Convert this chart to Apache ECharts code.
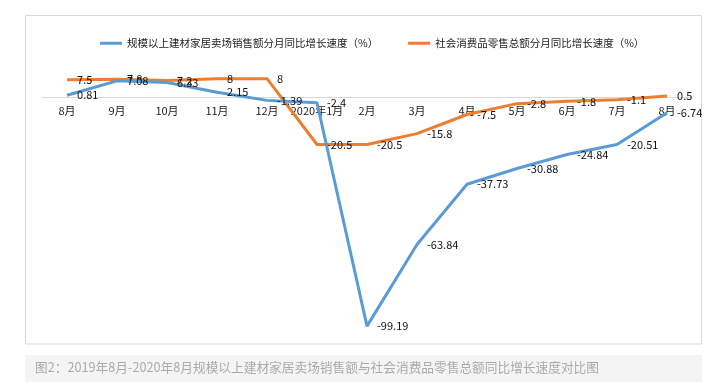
<!DOCTYPE html>
<html><head><meta charset="utf-8">
<script src="https://cdn.jsdelivr.net/npm/echarts@6/dist/echarts.min.js"></script>
<style>html,body{margin:0;padding:0;background:#fff}#c{width:724px;height:389px}</style>
</head><body><div id="c"></div>
<script>
const categories = ['8月','9月','10月','11月','12月','2020年1月','2月','3月','4月','5月','6月','7月','8月'];
const homeMarket = [0.81, 7.08, 6.33, 2.15, -1.39, -2.4, -99.19, -63.84, -37.73, -30.88, -24.84, -20.51, -6.74];
const retailSales = [7.5, 7.8, 7.2, 8, 8, -20.5, -20.5, -15.8, -7.5, -2.8, -1.8, -1.1, 0.5];
const seriesNames = ['规模以上建材家居卖场销售额分月同比增长速度（%）','社会消费品零售总额分月同比增长速度（%）'];
const caption = '图2：2019年8月-2020年8月规模以上建材家居卖场销售额与社会消费品零售总额同比增长速度对比图';
const yMin = -100, yMax = 20;

const font = '"Microsoft YaHei","Noto Sans CJK SC",sans-serif';
const chart = echarts.init(document.getElementById('c'));
const gridTop = 51, gridBottom = 61, H = 389;
const gridH = H - gridTop - gridBottom;
const zeroOffset = -gridH * (0 - yMin) / (yMax - yMin);
const lbl = {show:true, position:'right', distance:10, fontSize:11, color:'#111', fontFamily:font};
chart.setOption({
  animation:false,
  textStyle:{fontFamily:font},
  graphic:[
    {type:'rect', shape:{x:25.5,y:15.5,width:676,height:328.5}, style:{fill:null, stroke:'#d9d9d9', lineWidth:1}, z:-1},
    {type:'rect', shape:{x:25,y:355,width:677,height:27}, style:{fill:'#f4f4f4'}, z:-1},
    {type:'text', left:35, top:361, style:{text:caption, fill:'#aaaaaa', fontSize:12.7, fontFamily:font}}
  ],
  legend:{
    top:33, left:95, itemGap:30, itemWidth:22, itemHeight:3, icon:'rect',
    textStyle:{fontSize:10.5, color:'#222', fontFamily:font},
    data:seriesNames
  },
  grid:{left:42, right:32, top:gridTop, bottom:gridBottom},
  xAxis:{
    type:'category', data:categories, boundaryGap:true, offset:zeroOffset,
    axisLine:{onZero:false, lineStyle:{color:'#d9d9d9'}},
    axisTick:{show:false},
    axisLabel:{color:'#222', fontSize:11, margin:8, interval:0, fontFamily:font}
  },
  yAxis:{type:'value', min:yMin, max:yMax, show:false, splitLine:{show:false}},
  series:[
    {name:seriesNames[0], type:'line', data:homeMarket, symbol:'circle', symbolSize:0.1, showSymbol:true, itemStyle:{color:'#5B9BD5'}, lineStyle:{width:3, color:'#5B9BD5'}, label:lbl, labelLayout:{hideOverlap:false}, z:3},
    {name:seriesNames[1], type:'line', data:retailSales, symbol:'circle', symbolSize:0.1, showSymbol:true, itemStyle:{color:'#ED7D31'}, lineStyle:{width:3, color:'#ED7D31'}, label:lbl, labelLayout:{hideOverlap:false}, z:2}
  ]
});
</script></body></html>
